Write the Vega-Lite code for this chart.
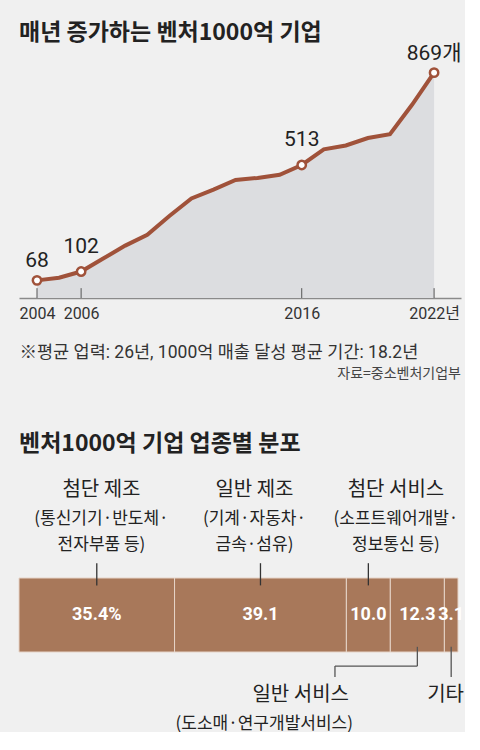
{
  "$schema": "https://vega.github.io/schema/vega-lite/v6.json",
  "background": "#f0f0f0",
  "padding": {"left": 18, "top": 21, "right": 0, "bottom": 0},
  "spacing": 52,
  "config": {"view": {"stroke": null}, "font": "Noto Sans CJK KR"},
  "datasets": {
    "yearly": [
      {"year": 2004, "count": 68, "label": "68"},
      {"year": 2005, "count": 78, "label": ""},
      {"year": 2006, "count": 102, "label": "102"},
      {"year": 2007, "count": 152, "label": ""},
      {"year": 2008, "count": 202, "label": ""},
      {"year": 2009, "count": 244, "label": ""},
      {"year": 2010, "count": 316, "label": ""},
      {"year": 2011, "count": 384, "label": ""},
      {"year": 2012, "count": 418, "label": ""},
      {"year": 2013, "count": 455, "label": ""},
      {"year": 2014, "count": 463, "label": ""},
      {"year": 2015, "count": 475, "label": ""},
      {"year": 2016, "count": 513, "label": "513"},
      {"year": 2017, "count": 573, "label": ""},
      {"year": 2018, "count": 588, "label": ""},
      {"year": 2019, "count": 617, "label": ""},
      {"year": 2020, "count": 632, "label": ""},
      {"year": 2021, "count": 745, "label": ""},
      {"year": 2022, "count": 869, "label": "869개"}
    ],
    "sectors": [
      {"order": 1, "sector": "첨단 제조", "pct": 35.4, "pctLabel": "35.4%", "side": "top", "sub": ["(통신기기·반도체·", "전자부품 등)"]},
      {"order": 2, "sector": "일반 제조", "pct": 39.1, "pctLabel": "39.1", "side": "top", "sub": ["(기계·자동차·", "금속·섬유)"]},
      {"order": 3, "sector": "첨단 서비스", "pct": 10.0, "pctLabel": "10.0", "side": "top", "sub": ["(소프트웨어개발·", "정보통신 등)"]},
      {"order": 4, "sector": "일반 서비스", "pct": 12.3, "pctLabel": "12.3", "side": "bottom", "sub": ["(도소매·연구개발서비스)"]},
      {"order": 5, "sector": "기타", "pct": 3.1, "pctLabel": "3.1", "side": "bottom", "sub": []}
    ]
  },
  "vconcat": [
    {
      "width": 442,
      "height": 250,
      "data": {"name": "yearly"},
      "encoding": {
        "x": {
          "field": "year", "type": "quantitative",
          "scale": {"domain": [2003.184, 2023.22], "nice": false, "zero": false},
          "axis": {
            "values": [2004, 2006, 2016, 2022],
            "labelExpr": "datum.value == 2022 ? '2022년' : '' + datum.value",
            "ticks": false, "grid": false,
            "domainColor": "#8a8a8a", "domainWidth": 1.5,
            "labelFont": "Roboto, Noto Sans CJK KR, sans-serif",
            "labelFontSize": 16, "labelColor": "#333333", "labelPadding": 7,
            "labelOverlap": false, "labelFlush": false,
            "title": "※평균 업력: 26년, 1000억 매출 달성 평균 기간: 18.2년",
            "titleFont": "Roboto, Noto Sans CJK KR, sans-serif",
            "titleFontSize": 17.5, "titleFontWeight": "normal", "titleColor": "#333333",
            "titleAnchor": "start", "titleAlign": "left", "titlePadding": 22
          }
        },
        "y": {"field": "count", "type": "quantitative", "scale": {"domain": [0, 964], "nice": false}, "axis": null}
      },
      "layer": [
        {"mark": {"type": "area", "color": "#dcdde0"}, "encoding": {"y2": {"datum": 0}}},
        {
          "transform": [{"filter": "datum.label != ''"}],
          "mark": {"type": "rule", "color": "#555555", "strokeWidth": 1},
          "encoding": {"y": {"datum": 0, "type": "quantitative", "scale": {"domain": [0, 964], "nice": false}}, "y2": {"datum": 38}}
        },
        {"mark": {"type": "line", "color": "#a0523a", "strokeWidth": 4}},
        {
          "transform": [{"filter": "datum.label != ''"}],
          "mark": {"type": "point", "filled": true, "fill": "#ffffff", "stroke": "#a0523a", "strokeWidth": 2.5, "size": 70, "opacity": 1}
        },
        {
          "transform": [{"filter": "datum.year == 2004 || datum.year == 2022"}],
          "mark": {"type": "text", "dy": -13, "baseline": "alphabetic", "fontSize": 21, "font": "Roboto, Noto Sans CJK KR, sans-serif", "color": "#222222"},
          "encoding": {"text": {"field": "label"}}
        },
        {
          "transform": [{"filter": "datum.year == 2006 || datum.year == 2016"}],
          "mark": {"type": "text", "dy": -19, "baseline": "alphabetic", "fontSize": 21, "font": "Roboto, Noto Sans CJK KR, sans-serif", "color": "#222222"},
          "encoding": {"text": {"field": "label"}}
        },
        {
          "transform": [{"filter": "datum.year == 2004"}],
          "mark": {"type": "text", "align": "left", "baseline": "alphabetic", "dy": -8.5, "fontSize": 23, "fontWeight": "bold", "color": "#222222", "font": "Noto Sans CJK KR"},
          "encoding": {
            "x": {"datum": 2003.184, "type": "quantitative", "scale": {"domain": [2003.184, 2023.22], "nice": false, "zero": false}},
            "y": {"datum": 964, "type": "quantitative", "scale": {"domain": [0, 964], "nice": false}},
            "text": {"value": "매년 증가하는 벤처1000억 기업"}
          }
        },
        {
          "transform": [{"filter": "datum.year == 2022"}],
          "mark": {"type": "text", "align": "right", "baseline": "alphabetic", "dy": 80, "fontSize": 14, "color": "#444444", "font": "Noto Sans CJK KR"},
          "encoding": {
            "x": {"datum": 2023.22, "type": "quantitative", "scale": {"domain": [2003.184, 2023.22], "nice": false, "zero": false}},
            "y": {"datum": 0, "type": "quantitative", "scale": {"domain": [0, 964], "nice": false}},
            "text": {"value": "자료=중소벤처기업부"}
          }
        }
      ]
    },
    {
      "width": 439,
      "height": 74,
      "data": {"name": "sectors"},
      "transform": [
        {"stack": "pct", "groupby": [], "sort": [{"field": "order", "order": "ascending"}], "as": ["x0", "x1"]},
        {"calculate": "(datum.x0 + datum.x1) / 2", "as": "mid"}
      ],
      "layer": [
        {
          "mark": {"type": "bar", "fill": "#a8785a", "stroke": "#e6d4c8", "strokeWidth": 1},
          "encoding": {
            "x": {"field": "x0", "type": "quantitative", "scale": {"domain": [0, 99.9], "nice": false, "zero": false}, "axis": null},
            "x2": {"field": "x1"},
            "y": {"datum": 0, "type": "quantitative", "scale": {"domain": [0, 1], "nice": false}, "axis": null},
            "y2": {"datum": 1}
          }
        },
        {
          "transform": [{"filter": "datum.order == 1"}],
          "mark": {"type": "text", "align": "left", "baseline": "alphabetic", "dy": -127, "fontSize": 23, "fontWeight": "bold", "color": "#222222", "font": "Noto Sans CJK KR"},
          "encoding": {
            "x": {"datum": 0, "type": "quantitative", "scale": {"domain": [0, 99.9], "nice": false, "zero": false}, "axis": null},
            "y": {"datum": 1, "type": "quantitative", "scale": {"domain": [0, 1], "nice": false}, "axis": null},
            "text": {"value": "벤처1000억 기업 업종별 분포"}
          }
        },
        {
          "mark": {"type": "text", "color": "#ffffff", "fontSize": 18, "fontWeight": "bold", "baseline": "middle", "font": "Roboto, sans-serif"},
          "encoding": {
            "x": {"field": "mid", "type": "quantitative", "scale": {"domain": [0, 99.9], "nice": false, "zero": false}, "axis": null},
            "y": {"datum": 0.5, "type": "quantitative", "scale": {"domain": [0, 1], "nice": false}, "axis": null},
            "text": {"field": "pctLabel"}
          }
        },
        {
          "transform": [{"filter": "datum.side == 'top'"}],
          "mark": {"type": "rule", "color": "#333333", "strokeWidth": 1.3},
          "encoding": {
            "x": {"field": "mid", "type": "quantitative", "scale": {"domain": [0, 99.9], "nice": false, "zero": false}, "axis": null},
            "y": {"datum": 1.2, "type": "quantitative", "scale": {"domain": [0, 1], "nice": false}, "axis": null},
            "y2": {"datum": 0.9}
          }
        },
        {
          "transform": [{"filter": "datum.side == 'bottom'"}],
          "mark": {"type": "rule", "color": "#555555", "strokeWidth": 1.3},
          "encoding": {
            "x": {"field": "mid", "type": "quantitative", "scale": {"domain": [0, 99.9], "nice": false, "zero": false}, "axis": null},
            "y": {"datum": 0.07, "type": "quantitative", "scale": {"domain": [0, 1], "nice": false}, "axis": null},
            "y2": {"datum": -0.19}
          }
        },
        {
          "transform": [{"filter": "datum.sector == '기타'"}],
          "mark": {"type": "rule", "color": "#555555", "strokeWidth": 1.3},
          "encoding": {
            "x": {"field": "mid", "type": "quantitative", "scale": {"domain": [0, 99.9], "nice": false, "zero": false}, "axis": null},
            "y": {"datum": -0.19, "type": "quantitative", "scale": {"domain": [0, 1], "nice": false}, "axis": null},
            "y2": {"datum": -0.338}
          }
        },
        {
          "transform": [{"filter": "datum.sector == '일반 서비스'"}],
          "mark": {"type": "rule", "color": "#555555", "strokeWidth": 1.3},
          "encoding": {
            "x": {"field": "mid", "type": "quantitative", "scale": {"domain": [0, 99.9], "nice": false, "zero": false}, "axis": null},
            "x2": {"datum": 71.9},
            "y": {"datum": -0.19, "type": "quantitative", "scale": {"domain": [0, 1], "nice": false}, "axis": null}
          }
        },
        {
          "transform": [{"filter": "datum.sector == '일반 서비스'"}],
          "mark": {"type": "rule", "color": "#555555", "strokeWidth": 1.3},
          "encoding": {
            "x": {"datum": 71.9, "type": "quantitative", "scale": {"domain": [0, 99.9], "nice": false, "zero": false}, "axis": null},
            "y": {"datum": -0.19, "type": "quantitative", "scale": {"domain": [0, 1], "nice": false}, "axis": null},
            "y2": {"datum": -0.338}
          }
        },
        {
          "transform": [{"filter": "datum.sector == '첨단 제조'"}],
          "layer": [
            {"mark": {"type": "text", "dx": 4.7, "dy": -88, "baseline": "middle", "fontSize": 20, "color": "#222222"}, "encoding": {"text": {"field": "sector"}}},
            {"mark": {"type": "text", "dx": 4.7, "dy": -59.5, "baseline": "middle", "fontSize": 17, "lineHeight": 26.5, "color": "#222222"}, "encoding": {"text": {"field": "sub"}}}
          ],
          "encoding": {
            "x": {"field": "mid", "type": "quantitative", "scale": {"domain": [0, 99.9], "nice": false, "zero": false}, "axis": null},
            "y": {"datum": 1, "type": "quantitative", "scale": {"domain": [0, 1], "nice": false}, "axis": null}
          }
        },
        {
          "transform": [{"filter": "datum.sector == '일반 제조'"}],
          "layer": [
            {"mark": {"type": "text", "dx": -6, "dy": -88, "baseline": "middle", "fontSize": 20, "color": "#222222"}, "encoding": {"text": {"field": "sector"}}},
            {"mark": {"type": "text", "dx": -6, "dy": -59.5, "baseline": "middle", "fontSize": 17, "lineHeight": 26.5, "color": "#222222"}, "encoding": {"text": {"field": "sub"}}}
          ],
          "encoding": {
            "x": {"field": "mid", "type": "quantitative", "scale": {"domain": [0, 99.9], "nice": false, "zero": false}, "axis": null},
            "y": {"datum": 1, "type": "quantitative", "scale": {"domain": [0, 1], "nice": false}, "axis": null}
          }
        },
        {
          "transform": [{"filter": "datum.sector == '첨단 서비스'"}],
          "layer": [
            {"mark": {"type": "text", "dx": 27.6, "dy": -88, "baseline": "middle", "fontSize": 20, "color": "#222222"}, "encoding": {"text": {"field": "sector"}}},
            {"mark": {"type": "text", "dx": 27.6, "dy": -59.5, "baseline": "middle", "fontSize": 17, "lineHeight": 26.5, "color": "#222222"}, "encoding": {"text": {"field": "sub"}}}
          ],
          "encoding": {
            "x": {"field": "mid", "type": "quantitative", "scale": {"domain": [0, 99.9], "nice": false, "zero": false}, "axis": null},
            "y": {"datum": 1, "type": "quantitative", "scale": {"domain": [0, 1], "nice": false}, "axis": null}
          }
        },
        {
          "transform": [{"filter": "datum.sector == '일반 서비스'"}],
          "layer": [
            {"mark": {"type": "text", "align": "right", "dx": -68.4, "dy": 43, "baseline": "middle", "fontSize": 20, "color": "#222222"}, "encoding": {"text": {"field": "sector"}}},
            {"mark": {"type": "text", "align": "right", "dx": -64.4, "dy": 71.5, "baseline": "middle", "fontSize": 17, "color": "#222222"}, "encoding": {"text": {"field": "sub"}}}
          ],
          "encoding": {
            "x": {"field": "mid", "type": "quantitative", "scale": {"domain": [0, 99.9], "nice": false, "zero": false}, "axis": null},
            "y": {"datum": 0, "type": "quantitative", "scale": {"domain": [0, 1], "nice": false}, "axis": null}
          }
        },
        {
          "transform": [{"filter": "datum.sector == '기타'"}],
          "mark": {"type": "text", "align": "right", "dx": 12.8, "dy": 43, "baseline": "middle", "fontSize": 20, "color": "#222222"},
          "encoding": {
            "x": {"field": "mid", "type": "quantitative", "scale": {"domain": [0, 99.9], "nice": false, "zero": false}, "axis": null},
            "y": {"datum": 0, "type": "quantitative", "scale": {"domain": [0, 1], "nice": false}, "axis": null},
            "text": {"field": "sector"}
          }
        }
      ]
    }
  ]
}
